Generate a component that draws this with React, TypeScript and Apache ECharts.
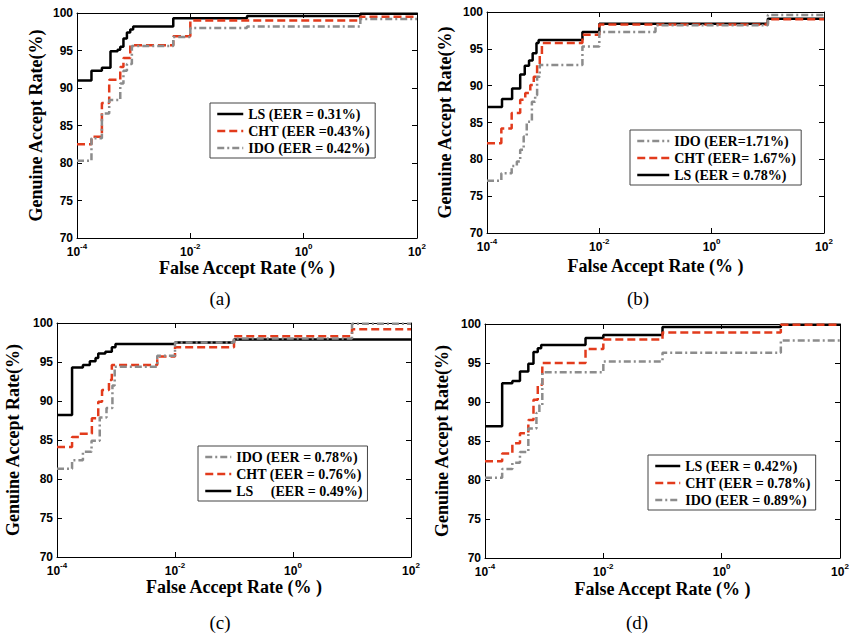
import React, { useEffect, useRef } from "react";
import * as echarts from "echarts";

type Pt = [number, number]; // [False Accept Rate (%), Genuine Accept Rate (%)]

// ---------- data ----------
const xTickExponents = [-4, -2, 0, 2];
const yMin = 70;
const yMax = 100;
const yStep = 5;
const panelLabels = ["(a)", "(b)", "(c)", "(d)"];
const xTitle = "False Accept Rate (% )";
const yTitle = "Genuine Accept Rate(%)";

// (a)
const aLS: Pt[] = [[1e-4, 91.0], [1.8e-4, 92.3], [2.75e-4, 92.7], [3.9e-4, 94.9], [5.2e-4, 95.1], [5.8e-4, 95.5], [6.6e-4, 96.6], [7.6e-4, 97.4], [8.7e-4, 97.8], [9.8e-4, 98.2], [5e-3, 99.3], [0.1, 99.6], [10, 99.9], [100, 99.9]];
const aCHT: Pt[] = [[1e-4, 82.5], [1.8e-4, 83.5], [2.75e-4, 88.0], [3.7e-4, 91.1], [5.8e-4, 92.8], [6.6e-4, 94.0], [8.7e-4, 95.7], [5e-3, 96.9], [1e-2, 99.0], [10, 99.5], [100, 99.5]];
const aIDO: Pt[] = [[1e-4, 80.3], [1.8e-4, 83.3], [2.75e-4, 86.6], [3.7e-4, 88.4], [5.8e-4, 90.6], [6.6e-4, 92.3], [7.6e-4, 93.2], [9.3e-4, 95.6], [5e-3, 96.8], [1e-2, 98.0], [0.1, 98.2], [10, 99.2], [100, 99.2]];
const aNames = ["LS (EER = 0.31%)", "CHT (EER =0.43%)", "IDO (EER = 0.42%)"];
const aLegendOrder = [0, 1, 2];

// (b)
const bLS: Pt[] = [[1e-4, 87.1], [1.85e-4, 88.2], [2.8e-4, 89.6], [3.9e-4, 91.5], [4.7e-4, 92.7], [5.6e-4, 93.4], [6.5e-4, 94.4], [7.6e-4, 95.8], [8.3e-4, 96.2], [5e-3, 97.3], [1e-2, 98.4], [10, 99.1], [100, 99.1]];
const bCHT: Pt[] = [[1e-4, 82.2], [1.8e-4, 84.2], [2.75e-4, 86.3], [3.9e-4, 88.1], [4.8e-4, 89.0], [5.9e-4, 90.1], [6.8e-4, 91.2], [7.8e-4, 92.8], [8.7e-4, 94.2], [9.5e-4, 95.8], [5e-3, 96.9], [1e-2, 98.3], [10, 99.0], [100, 99.0]];
const bIDO: Pt[] = [[1e-4, 77.1], [1.8e-4, 78.1], [2.75e-4, 79.1], [3.4e-4, 79.7], [3.9e-4, 81.3], [4.5e-4, 83.1], [5.1e-4, 85.1], [6.3e-4, 87.8], [7.2e-4, 88.7], [7.8e-4, 91.2], [8.7e-4, 92.8], [5e-3, 95.3], [1e-2, 97.3], [0.1, 98.2], [10, 99.6], [100, 99.6]];
const bNames = ["LS (EER = 0.78%)", "CHT (EER= 1.67%)", "IDO (EER=1.71%)"];
const bLegendOrder = [2, 1, 0];

// (c)
const cLS: Pt[] = [[1e-4, 88.2], [1.8e-4, 94.3], [2.75e-4, 94.6], [3.6e-4, 95.1], [4.5e-4, 95.5], [5e-4, 96.1], [6.6e-4, 96.3], [8.5e-4, 96.9], [9.8e-4, 97.3], [1e-2, 97.5], [0.1, 97.9], [100, 97.9]];
const cCHT: Pt[] = [[1e-4, 84.1], [1.8e-4, 85.4], [2.4e-4, 85.8], [3.9e-4, 87.8], [5e-4, 89.9], [5.8e-4, 91.4], [7.6e-4, 92.7], [8.5e-4, 94.6], [5e-3, 95.7], [1e-2, 96.9], [0.1, 98.3], [10, 99.2], [100, 99.2]];
const cIDO: Pt[] = [[1e-4, 81.3], [1.8e-4, 82.4], [2.75e-4, 83.5], [3.85e-4, 84.9], [5.3e-4, 87.9], [6.9e-4, 89.1], [8.7e-4, 92.0], [9.5e-4, 94.4], [5e-3, 95.8], [1e-2, 97.5], [0.1, 98.0], [10, 99.9], [100, 99.9]];
const cNames = ["LS     (EER = 0.49%)", "CHT (EER = 0.76%)", "IDO (EER = 0.78%)"];
const cLegendOrder = [2, 1, 0];

// (d)
const dLS: Pt[] = [[1e-4, 86.9], [1.95e-4, 92.4], [2.9e-4, 92.7], [3.9e-4, 93.9], [5.4e-4, 94.9], [6.6e-4, 96.4], [7.8e-4, 96.9], [8.9e-4, 97.3], [5e-3, 98.2], [1e-2, 98.6], [0.1, 99.6], [10, 99.9], [100, 99.9]];
const dCHT: Pt[] = [[1e-4, 82.4], [1.95e-4, 83.4], [2.9e-4, 84.7], [3.9e-4, 86.0], [5.4e-4, 87.7], [6.6e-4, 90.3], [7.8e-4, 92.2], [9.3e-4, 95.0], [5e-3, 96.8], [1e-2, 98.0], [0.1, 98.9], [10, 99.9], [100, 99.9]];
const dIDO: Pt[] = [[1e-4, 80.3], [1.95e-4, 81.4], [2.9e-4, 82.2], [3.9e-4, 83.6], [5.4e-4, 86.6], [7.4e-4, 88.6], [8.3e-4, 89.6], [9.3e-4, 93.8], [1e-2, 95.2], [0.1, 96.3], [10, 97.9], [100, 97.9]];
const dNames = ["LS (EER = 0.42%)", "CHT (EER = 0.78%)", "IDO (EER = 0.89%)"];
const dLegendOrder = [0, 1, 2];

const panelCurves: Pt[][][] = [
  [aLS, aCHT, aIDO],
  [bLS, bCHT, bIDO],
  [cLS, cCHT, cIDO],
  [dLS, dCHT, dIDO],
];
const panelNames = [aNames, bNames, cNames, dNames];
const panelLegendOrders = [aLegendOrder, bLegendOrder, cLegendOrder, dLegendOrder];

// ---------- layout & styles ----------
const layouts = [
  { grid: { left: 77, top: 13, width: 340, height: 225 }, xGap: 20, yGap: 32, legend: { left: 210, top: 103, itemWidth: 26 }, label: [220, 298] },
  { grid: { left: 487, top: 12, width: 337, height: 221 }, xGap: 24, yGap: 33, legend: { left: 630, top: 130, itemWidth: 32 }, label: [638, 298] },
  { grid: { left: 57, top: 323, width: 354, height: 234 }, xGap: 21, yGap: 35, legend: { left: 198, top: 446, itemWidth: 26 }, label: [220, 622] },
  { grid: { left: 485, top: 324, width: 355, height: 234 }, xGap: 22, yGap: 34, legend: { left: 648, top: 455, itemWidth: 25 }, label: [637, 622] },
];

const curveStyles = [
  { color: "#000000", type: "solid" as any },
  { color: "#e23b1c", type: [8, 4] as any },
  { color: "#8c8c8c", type: [7, 3, 2, 3] as any },
];

const SERIF = '"Liberation Serif", "Times New Roman", serif';
const SANS = '"Liberation Sans", Arial, sans-serif';

export default function App() {
  const ref = useRef<HTMLDivElement>(null);

  useEffect(() => {
    if (!ref.current) return;
    const chart = echarts.init(ref.current, undefined, { renderer: "svg" });

    const grid: any[] = [];
    const xAxis: any[] = [];
    const yAxis: any[] = [];
    const series: any[] = [];
    const legend: any[] = [];
    const graphic: any[] = [];

    const xMin = xTickExponents[0];
    const xMax = xTickExponents[xTickExponents.length - 1];
    const xInterval = xTickExponents[1] - xTickExponents[0];

    layouts.forEach((lay, i) => {
      grid.push({ ...lay.grid, containLabel: false });
      const tick = { inside: true, length: 5, lineStyle: { color: "#000", width: 1 } };
      const line = { show: true, onZero: false, lineStyle: { color: "#000", width: 1 } };
      xAxis.push({
        type: "value",
        gridIndex: i,
        position: "bottom",
        min: xMin,
        max: xMax,
        interval: xInterval,
        axisLine: line,
        axisTick: tick,
        splitLine: { show: false },
        axisLabel: {
          margin: 4,
          formatter: (v: number) => `{b|10}{s|${Math.round(v)}}`,
          rich: {
            b: { fontFamily: SANS, fontWeight: "bold", fontSize: 12, color: "#000", lineHeight: 16, verticalAlign: "bottom" },
            s: { fontFamily: SANS, fontWeight: "bold", fontSize: 8, color: "#000", lineHeight: 9, verticalAlign: "top" },
          },
        },
        name: xTitle,
        nameLocation: "middle",
        nameGap: lay.xGap,
        nameTextStyle: { fontFamily: SERIF, fontWeight: "bold", fontSize: 18, color: "#000" },
      });
      xAxis.push({
        type: "value",
        gridIndex: i,
        position: "top",
        min: xMin,
        max: xMax,
        interval: xInterval,
        axisLine: line,
        axisTick: tick,
        splitLine: { show: false },
        axisLabel: { show: false },
      });
      yAxis.push({
        type: "value",
        gridIndex: i,
        position: "left",
        min: yMin,
        max: yMax,
        interval: yStep,
        axisLine: line,
        axisTick: tick,
        splitLine: { show: false },
        axisLabel: { margin: 4, fontFamily: SANS, fontWeight: "bold", fontSize: 12, color: "#000" },
        name: yTitle,
        nameLocation: "middle",
        nameGap: lay.yGap,
        nameTextStyle: { fontFamily: SERIF, fontWeight: "bold", fontSize: 18, color: "#000" },
      });
      yAxis.push({
        type: "value",
        gridIndex: i,
        position: "right",
        min: yMin,
        max: yMax,
        interval: yStep,
        axisLine: line,
        axisTick: tick,
        splitLine: { show: false },
        axisLabel: { show: false },
      });

      const names = panelNames[i];
      panelCurves[i].forEach((curve, k) => {
        series.push({
          type: "line",
          name: names[k],
          xAxisIndex: i * 2,
          yAxisIndex: i * 2,
          step: "end",
          symbol: "none",
          silent: true,
          lineStyle: { color: curveStyles[k].color, width: 2.5, type: curveStyles[k].type },
          itemStyle: { color: curveStyles[k].color },
          data: curve.map(([far, gar]) => [Math.log10(far), gar]),
        });
      });

      legend.push({
        orient: "vertical",
        left: lay.legend.left,
        top: lay.legend.top,
        itemWidth: lay.legend.itemWidth,
        itemHeight: 14,
        itemGap: 3,
        padding: [4, 5, 3, 6],
        borderColor: "#444",
        borderWidth: 1,
        backgroundColor: "#fff",
        selectedMode: false,
        itemStyle: { opacity: 0 },
        lineStyle: { width: 2.5 },
        data: panelLegendOrders[i].map((k) => names[k]),
        textStyle: { fontFamily: SERIF, fontWeight: "bold", fontSize: 14, color: "#000" },
      });

      graphic.push({
        type: "text",
        x: lay.label[0],
        y: lay.label[1],
        style: {
          text: panelLabels[i],
          font: `19px ${SERIF}`,
          fill: "#000",
          align: "center",
          verticalAlign: "middle",
          textAlign: "center",
          textVerticalAlign: "middle",
        },
      });
    });

    chart.setOption({
      animation: false,
      backgroundColor: "#fff",
      grid,
      xAxis,
      yAxis,
      series,
      legend,
      graphic,
    });

    return () => chart.dispose();
  }, []);

  return (
    <div
      ref={ref}
      style={{ position: "fixed", left: 0, top: 0, width: 853, height: 635, background: "#fff" }}
    />
  );
}
